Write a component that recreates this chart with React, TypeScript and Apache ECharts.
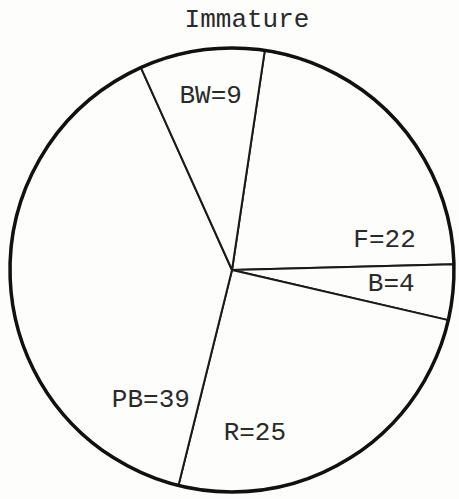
import React, { useEffect, useRef } from "react";
import * as echarts from "echarts";

// Composition of the immature group, one slice per class
const categories = ["F", "B", "R", "PB", "BW"];
const values = [22, 4, 25, 39, 9];

// Where each class label sits: angle clockwise from 12 o'clock (deg), and distance as a share of the radius
const labelAngles = [79, 95, 172, 212, 353];
const labelRadii = [0.7, 0.72, 0.74, 0.69, 0.79];

const FONT = "'Liberation Mono', 'DejaVu Sans Mono', monospace";
const CX = 232;
const CY = 270;
const R = 222;

export default function App() {
  const ref = useRef<HTMLDivElement>(null);

  useEffect(() => {
    if (!ref.current) return;
    const chart = echarts.init(ref.current, null, { renderer: "svg" });
    const data = categories.map((c, i) => ({ name: c, value: values[i] }));

    chart.setOption({
      animation: false,
      backgroundColor: "#fdfdfc",
      title: {
        text: "Immature",
        left: 242,
        top: 2,
        textAlign: "center",
        textStyle: {
          fontFamily: FONT,
          fontSize: 26,
          fontWeight: "normal",
          color: "#2a2a2a",
        },
      },
      series: [
        {
          type: "pie",
          center: [CX, CY],
          radius: [0, R],
          startAngle: 81.5,
          clockwise: true,
          silent: true,
          data,
          itemStyle: {
            color: "#fdfdfc",
            borderColor: "#1a1a1a",
            borderWidth: 2,
          },
          label: {
            show: true,
            position: "inside",
            formatter: (p: any) => `${p.name}=${p.value}`,
            fontFamily: FONT,
            fontSize: 26,
            color: "#2a2a2a",
          },
          labelLine: { show: false },
          labelLayout: (p: any) => {
            const i = p.dataIndex;
            const a = (labelAngles[i] * Math.PI) / 180;
            const d = labelRadii[i] * R;
            return {
              x: CX + d * Math.sin(a),
              y: CY - d * Math.cos(a),
              align: "center",
              verticalAlign: "middle",
            };
          },
        },
        {
          // heavier outer rim of the circle
          type: "pie",
          center: [CX, CY],
          radius: [0, R],
          silent: true,
          z: 3,
          data: [{ value: 1 }],
          itemStyle: {
            color: "rgba(0,0,0,0)",
            borderColor: "#111",
            borderWidth: 3.5,
          },
          label: { show: false },
          labelLine: { show: false },
        },
      ],
    });

    return () => chart.dispose();
  }, []);

  return (
    <div
      ref={ref}
      style={{ position: "absolute", left: 0, top: 0, width: 459, height: 499 }}
    />
  );
}
